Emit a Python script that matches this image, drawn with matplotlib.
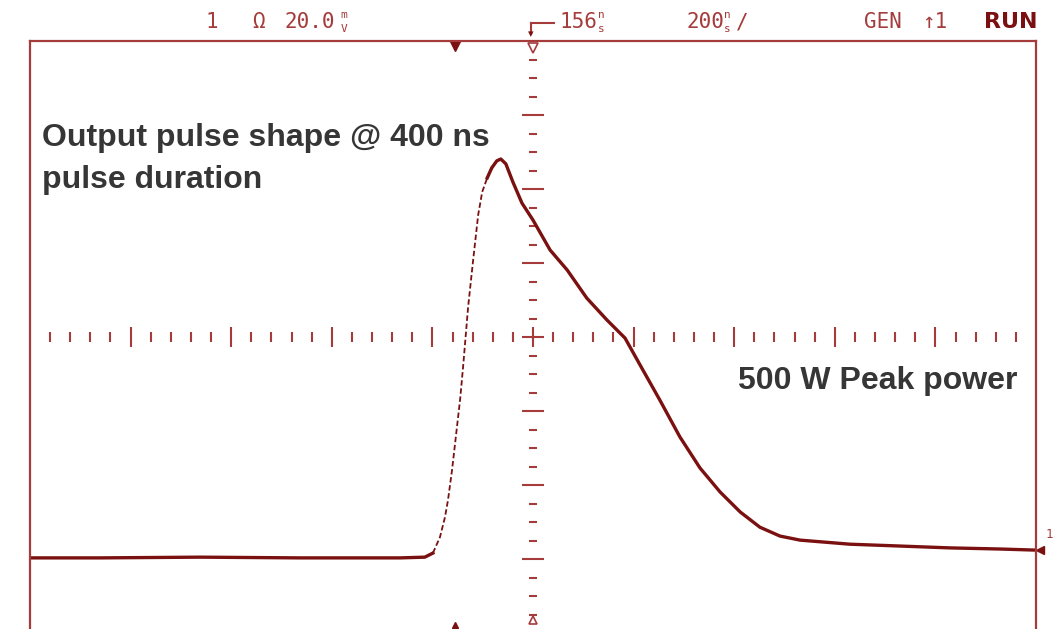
#!/usr/bin/env python3
"""Oscilloscope capture: output pulse shape at 400 ns pulse duration."""
import numpy as np
import matplotlib
matplotlib.use("Agg")
import matplotlib.pyplot as plt

# trace: time (ns, 0 = screen centre) vs. signal (mV)
time_ns = [-1000, -861, -662, -463, -264, -215, -199, -185, -175, -169,
           -161, -153, -145, -139, -129, -119, -109, -101, -91, -82,
           -72, -64, -54, -40, -22, 0, 34, 68, 107, 147,
           183, 213, 252, 292, 332, 372, 412, 451, 491, 531,
           630, 730, 829, 928, 1000]
signal_mV = [-59.7, -59.7, -59.5, -59.7, -59.7, -59.5, -58.4, -54.1, -48.7, -44.1,
             -36.0, -26.5, -17.0, -8.1, 8.1, 20.8, 33.0, 39.2, 43.0, 45.7,
             47.6, 48.1, 46.8, 41.9, 36.2, 31.6, 23.5, 18.1, 10.5, 4.6,
             -0.3, -7.6, -17.0, -27.0, -35.4, -41.9, -47.3, -51.4, -53.8, -54.9,
             -56.0, -56.5, -57.0, -57.3, -57.6]

# scope settings shown on screen
ns_per_div = 200
mV_per_div = 20
n_xdiv, n_ydiv = 10, 8

FRAME = "#a53b3b"
TRACE = "#7a1010"
INK = "#363636"
W, H = 1061, 629

fig = plt.figure(figsize=(W / 100, H / 100), dpi=100)
ax = fig.add_axes([30 / W, -4 / H, 1006 / W, 592 / H])
ax.set_xlim(-ns_per_div * n_xdiv / 2, ns_per_div * n_xdiv / 2)
ax.set_ylim(-mV_per_div * n_ydiv / 2, mV_per_div * n_ydiv / 2)
ax.set_xticks([]); ax.set_yticks([])
for s in ("top", "left", "right"):
    ax.spines[s].set_color(FRAME); ax.spines[s].set_linewidth(1.6)
ax.spines["bottom"].set_visible(False)

# graticule ticks along the centre lines
xt = np.arange(-1000 + 40, 1000, 40)
for x in xt:
    h = 2.6 if x % ns_per_div == 0 else 1.35
    ax.vlines(x, -h, h, color=FRAME, lw=1.5)
yt = np.arange(-75, 80, 5)
for y in yt:
    w = 21 if y % mV_per_div == 0 else 8
    ax.hlines(y, -w, w, color=FRAME, lw=1.5)

# the captured pulse: sparse samples on the fast edge, dense on the slow parts
i0 = time_ns.index(-199)
i1 = time_ns.index(-91)
ax.plot(time_ns[:i0 + 1], signal_mV[:i0 + 1], color=TRACE, lw=2.4)
ax.plot(time_ns[i0:i1 + 1], signal_mV[i0:i1 + 1], color=TRACE, lw=1.3,
        ls=(0, (3, 1.5)))
ax.plot(time_ns[i1:], signal_mV[i1:], color=TRACE, lw=2.4, solid_joinstyle="round")

# screen markers
ax.plot([-155], [78.6], marker="v", ms=7, color=TRACE, clip_on=False)
ax.plot([0], [78.0], marker="v", ms=7, mfc="none", mec=FRAME, mew=1.2, clip_on=False)
ax.plot([-155], [-77.8], marker="^", ms=5, color=TRACE, clip_on=False)
ax.plot([0], [-76.5], marker="^", ms=6, mfc="none", mec=FRAME, mew=1.2, clip_on=False)
ax.plot([1008], [signal_mV[-1]], marker="<", ms=6, color=TRACE, clip_on=False)

# annotations on the plot
txt = dict(family="Liberation Sans", fontweight="bold", color=INK, fontsize=23)
fig.text(42 / W, 1 - 146 / H, "Output pulse shape @ 400 ns", va="baseline", **txt)
fig.text(42 / W, 1 - 188 / H, "pulse duration", va="baseline", **txt)
fig.text(738 / W, 1 - 389 / H, "500 W Peak power", va="baseline", **txt)

# scope status line
hd = dict(family="DejaVu Sans Mono", color=FRAME, fontsize=15, va="center")
sm = dict(family="DejaVu Sans Mono", color=FRAME, fontsize=8, va="center")
fig.text(206 / W, 1 - 22 / H, "1", **hd)
fig.text(252 / W, 1 - 22 / H, "Ω", **hd)
fig.text(285 / W, 1 - 22 / H, "20.0", **hd)
fig.text(340 / W, 1 - 15 / H, "m", **sm)
fig.text(341 / W, 1 - 29 / H, "V", **sm)
fig.text(560 / W, 1 - 22 / H, "156", **hd)
fig.text(598 / W, 1 - 15 / H, "n", **sm)
fig.text(598 / W, 1 - 29 / H, "s", **sm)
fig.text(686 / W, 1 - 22 / H, "200", **hd)
fig.text(724 / W, 1 - 15 / H, "n", **sm)
fig.text(724 / W, 1 - 29 / H, "s", **sm)
fig.text(736 / W, 1 - 22 / H, "/", **hd)
fig.text(864 / W, 1 - 22 / H, "GEN", **hd)
fig.text(922 / W, 1 - 22 / H, "↑1", **hd)
fig.text(984 / W, 1 - 22 / H, "RUN", family="DejaVu Sans", fontweight="bold",
         color=TRACE, fontsize=16, va="center")
fig.text(1046 / W, 1 - 535 / H, "1", family="DejaVu Sans Mono", color=FRAME,
         fontsize=9, va="center")

# trigger-position arrow above the frame
fig.add_artist(plt.Line2D([531 / W, 554 / W], [1 - 23 / H, 1 - 23 / H], color=FRAME, lw=1.5))
fig.add_artist(plt.Line2D([531 / W, 531 / W], [1 - 23 / H, 1 - 34 / H], color=FRAME, lw=1.5))
fig.text(531 / W, 1 - 34 / H, "▾", color=TRACE, fontsize=8, ha="center", va="center")

fig.savefig("out.png", dpi=100, facecolor="white")
